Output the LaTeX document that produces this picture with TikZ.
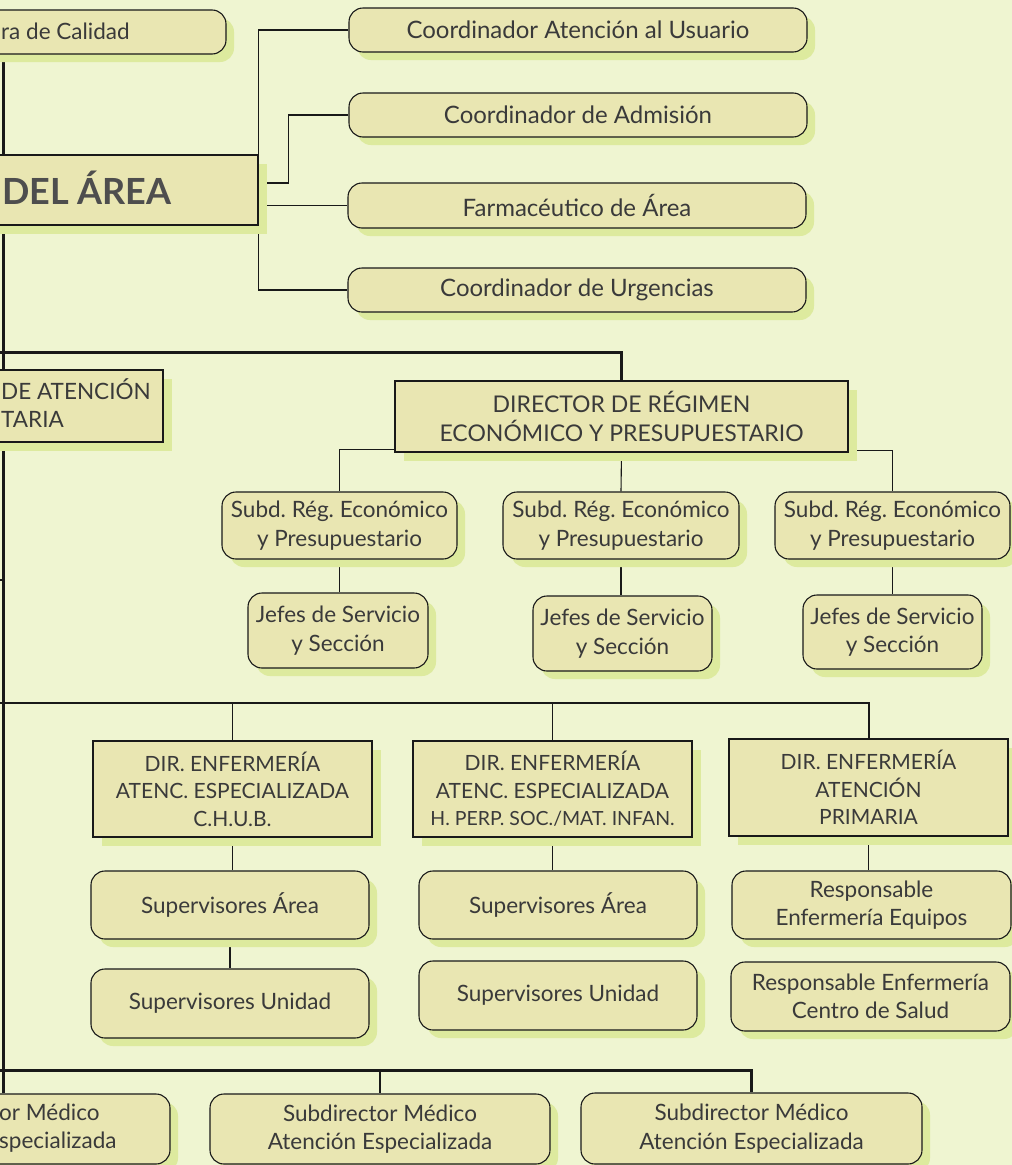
\documentclass[tikz,border=0pt]{standalone}
\usepackage{fontspec}
\setmainfont{Lato}
\usetikzlibrary{shadows}
\definecolor{fondoc}{RGB}{239,245,209}
\definecolor{cajac}{RGB}{233,230,178}
\definecolor{sombrac}{RGB}{221,234,158}
\definecolor{textoc}{RGB}{58,58,58}
\definecolor{negritac}{RGB}{78,78,78}
\definecolor{lineac}{RGB}{25,25,25}
\pgfdeclarelayer{atras}
\pgfsetlayers{atras,main}
\frenchspacing
\begin{document}
\begin{tikzpicture}[x=1pt,y=-1pt,
  caja/.style={draw=lineac,fill=cajac,line width=1.1pt,inner sep=0pt,align=center,text=textoc,
    font=\fontsize{22.5}{28.5}\selectfont},
  redonda/.style={caja,rounded corners=14pt,
    drop shadow={shadow xshift=8pt,shadow yshift=-8pt,fill=sombrac,opacity=1}},
  recta/.style={caja,
    drop shadow={shadow xshift=9pt,shadow yshift=-9pt,fill=sombrac,opacity=1}},
  coord/.style={redonda,font=\fontsize{24}{28}\selectfont},
  mayus/.style={recta,font=\fontsize{21}{27.5}\selectfont},
  tam/.style 2 args={minimum width=#1pt,minimum height=#2pt},
  rotulo/.style={text=textoc,font=\fontsize{22.5}{28.5}\selectfont,inner sep=0pt,align=left},
  fina/.style={draw=lineac,line width=1.1pt},
  media/.style={draw=lineac,line width=2pt},
  gruesa/.style={draw=lineac,line width=3pt}]
\useasboundingbox (0,0) rectangle (1012,1165);
\begin{pgfonlayer}{atras}
\fill[fondoc] (0,0) rectangle (1012,1165);
\end{pgfonlayer}

\node[redonda,tam={246}{44}] (calidad) at (103,32) {};
\node[rotulo,anchor=west] (calidadt) at (1,31) {ra de Calidad};
\node[recta,tam={278}{70}] (gerencia) at (119,190) {};
\node[rotulo,anchor=west,text=negritac,font=\fontsize{36}{36}\bfseries] (gerenciat) at (2,188) {DEL ÁREA};

\node[coord,tam={458}{44}] (usuario) at (578,30) {Coordinador Atención al Usuario};
\node[coord,tam={458}{44}] (admision) at (578,115) {Coordinador de Admisión};
\node[coord,tam={458}{45}] (farmacia) at (577,205.5) {Farmacéutico de Área};
\node[coord,tam={458}{44}] (urgencias) at (577,290) {Coordinador de Urgencias};

\node[recta,tam={193}{72}] (primaria) at (66.5,406) {};
\node[rotulo,anchor=west] (primariat) at (1,403) {DE ATENCIÓN\\TARIA};
\node[recta,tam={453}{71},font=\fontsize{23}{29}\selectfont] (regimen) at (621.5,416.5) {DIRECTOR DE RÉGIMEN\\ECONÓMICO Y PRESUPUESTARIO};
\node[redonda,tam={235}{67}] (subd1) at (339.5,525.5) {Subd. Rég. Económico\\y Presupuestario};
\node[redonda,tam={236}{67}] (subd2) at (621,525.5) {Subd. Rég. Económico\\y Presupuestario};
\node[redonda,tam={235}{67}] (subd3) at (892.5,525.5) {Subd. Rég. Económico\\y Presupuestario};
\node[redonda,tam={180}{75}] (jefes1) at (338,630.5) {Jefes de Servicio\\y Sección};
\node[redonda,tam={179}{75}] (jefes2) at (622.5,633.5) {Jefes de Servicio\\y Sección};
\node[redonda,tam={179}{74}] (jefes3) at (892.5,632) {Jefes de Servicio\\y Sección};

\node[mayus,tam={279}{96}] (enf1) at (232.5,789) {DIR. ENFERMERÍA\\ATENC. ESPECIALIZADA\\C.H.U.B.};
\node[mayus,tam={279}{96}] (enf2) at (552.5,789) {DIR. ENFERMERÍA\\ATENC. ESPECIALIZADA\\{\fontsize{19.5}{27.5}\selectfont H. PERP. SOC./MAT. INFAN.}};
\node[mayus,tam={279}{97}] (enf3) at (868.5,787.5) {DIR. ENFERMERÍA\\ATENCIÓN\\PRIMARIA};
\node[redonda,tam={278}{68}] (supa1) at (230,905) {Supervisores Área};
\node[redonda,tam={278}{68}] (supa2) at (558,905) {Supervisores Área};
\node[redonda,tam={279}{68}] (resp1) at (871.5,905) {Responsable\\Enfermería Equipos};
\node[redonda,tam={278}{69}] (supu1) at (230,1003.5) {Supervisores Unidad};
\node[redonda,tam={278}{69}] (supu2) at (558,995.5) {Supervisores Unidad};
\node[redonda,tam={279}{69}] (resp2) at (870.5,996.5) {Responsable Enfermería\\Centro de Salud};

\node[redonda,tam={339}{70}] (sub1) at (0.5,1129) {};
\node[rotulo,anchor=west] (sub1t) at (-1,1128) {or Médico\\specializada};
\node[redonda,tam={340}{70}] (sub2) at (380,1129) {Subdirector Médico\\Atención Especializada};
\node[redonda,tam={341}{71}] (sub3) at (751.5,1128.5) {Subdirector Médico\\Atención Especializada};

\begin{pgfonlayer}{atras}
\coordinate (eje) at (3,0);
\coordinate (rama1) at (0,352);
\coordinate (rama2) at (0,703);
\coordinate (rama3) at (0,1070);
\coordinate (rama4) at (0,580);
\draw[gruesa] (calidad.south -| eje) -- (sub1.north -| eje);
\draw[gruesa] (rama1) -| (regimen.north);
\draw[media] (rama2) -| (enf3.north);
\draw[fina] (enf1.north |- rama2) -- (enf1.north);
\draw[fina] (enf2.north |- rama2) -- (enf2.north);
\draw[gruesa] (rama3) -| (sub3.north);
\draw[media] (sub2.north |- rama3) -- (sub2.north);
\draw[fina] (rama4) -- (rama4 -| eje);
\draw[fina] (gerencia.north east) |- (usuario.west);
\draw[fina] ([yshift=7pt]gerencia.east) -| ([xshift=-60pt]admision.west) -- (admision.west);
\draw[fina] (gerencia.east |- farmacia.west) -- (farmacia.west);
\draw[fina] (gerencia.south east) |- (urgencias.west);
\draw[fina] ([yshift=3pt]regimen.south west) -| (subd1.north);
\draw[fina] (regimen.south) -- (subd2.north);
\draw[fina] ([yshift=2pt]regimen.south east) -| (subd3.north);
\foreach \i in {1,2,3}
  \draw[fina] (subd\i.south) -- (subd\i.south |- jefes\i.north);
\draw[fina] (enf1.south) -- (enf1.south |- supa1.north);
\draw[fina] (enf2.south) -- (enf2.south |- supa2.north);
\draw[fina] (enf3.south) -- (enf3.south |- resp1.north);
\draw[fina] (supa1.south) -- (supa1.south |- supu1.north);
\end{pgfonlayer}
\end{tikzpicture}
\end{document}
